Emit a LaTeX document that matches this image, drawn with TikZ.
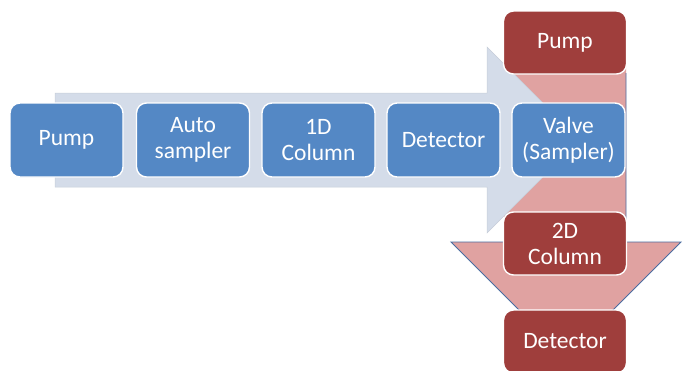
\documentclass[tikz,border=0pt]{standalone}
\usepackage{fontspec}
\setmainfont{Carlito}
\definecolor{stepblue}{RGB}{84,136,197}
\definecolor{stepred}{RGB}{159,62,60}
\definecolor{flowpink}{RGB}{224,162,161}
\definecolor{flowblue}{RGB}{212,220,233}
\definecolor{flowedge}{RGB}{74,108,160}
\begin{document}
\begin{tikzpicture}[x=1pt,y=-1pt,
  box/.style={rounded corners=10pt, draw=white, line width=1.4pt,
    text=white, align=center, inner sep=0pt,
    font=\fontsize{23.5}{26}\selectfont},
  firstbox/.style={box, fill=stepblue, minimum width=113pt, minimum height=74pt},
  secondbox/.style={box, fill=stepred, minimum width=123pt, minimum height=63pt}]
\useasboundingbox (0,0) rectangle (684,370);
% second-dimension flow (downward arrow)
\fill[flowpink] (504,40) -- (626,40) -- (626,242) -- (681,242) -- (566,357)
  -- (451,242) -- (504,242) -- cycle;
\draw[flowedge, line width=0.9pt] (626,73) -- (626,242) -- (681,242) -- (566,357)
  -- (451,242) -- (504,242);
% first-dimension flow (rightward arrow)
\filldraw[fill=flowblue, draw=flowblue!85!gray, line width=0.5pt]
  (55,93) -- (487,93) -- (487,47) -- (580,140) -- (487,233) -- (487,187)
  -- (55,187) -- cycle;
% first-dimension modules
\node[firstbox] (pump1) at (66.5,140) {Pump};
\node[firstbox] (auto) at (193,140) {Auto\\sampler};
\node[firstbox] (col1) at (318.5,140) {1D\\Column};
\node[firstbox] (det1) at (443.5,140) {Detector};
\node[firstbox] (valve) at (568.5,140) {Valve\\(Sampler)};
% second-dimension modules
\node[secondbox] (pump2) at (565,42.5) {Pump};
\node[secondbox] (col2) at (565,243.5) {2D\\Column};
\node[secondbox] (det2) at (565,341.5) {Detector};
\end{tikzpicture}
\end{document}
